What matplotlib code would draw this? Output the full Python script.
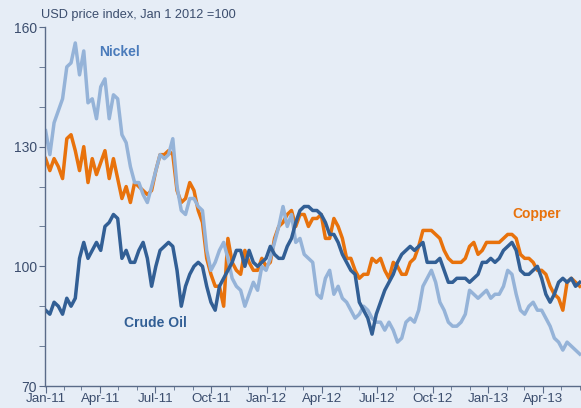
import matplotlib
matplotlib.use("Agg")
import matplotlib.pyplot as plt
import matplotlib.dates as mdates
import pandas as pd

plt.rcParams["font.family"] = ["Liberation Sans", "DejaVu Sans"]

# weekly observations, Jan 2011 - end May 2013 (USD index, Jan 1 2012 = 100)
dates = pd.date_range("2011-01-01", periods=127, freq="7D")

nickel = [
    134, 128, 136, 139, 142, 150, 151, 156, 148, 154, 141, 142, 137, 145, 147, 137,
    143, 142, 133, 131, 125, 121, 121, 118, 116, 120, 124, 128, 127, 128, 132, 120,
    114, 113, 117, 117, 115, 114, 104, 99, 101, 104, 106, 102, 97, 95, 94, 90,
    93, 96, 94, 100, 99, 102, 106, 110, 115, 110, 113, 106, 107, 103, 102, 101,
    93, 92, 97, 99, 93, 95, 92, 91, 89, 87, 88, 90, 89, 87, 86, 86,
    84, 86, 84, 81, 82, 86, 87, 86, 89, 95, 97, 99, 96, 91, 89, 86,
    85, 85, 86, 88, 94, 93, 92, 93, 94, 92, 93, 93, 95, 99, 98, 93,
    89, 88, 90, 91, 89, 89, 87, 85, 82, 81, 79, 81, 80, 79, 78,
]

copper = [
    127, 124, 127, 125, 122, 132, 133, 129, 124, 130, 121, 127, 123, 126, 129, 122,
    127, 122, 117, 120, 116, 121, 120, 119, 118, 119, 124, 128, 128, 129, 128, 119,
    116, 117, 121, 119, 114, 111, 102, 98, 95, 95, 90, 107, 101, 99, 98, 104,
    101, 99, 99, 102, 100, 101, 107, 110, 111, 113, 114, 110, 113, 113, 110, 112,
    112, 113, 107, 107, 112, 110, 107, 102, 102, 99, 97, 98, 98, 102, 101, 102,
    99, 97, 101, 100, 98, 98, 101, 102, 105, 109, 109, 109, 108, 107, 104, 102,
    101, 101, 101, 102, 105, 106, 103, 104, 106, 106, 106, 106, 107, 108, 108, 107,
    103, 102, 102, 101, 99, 99, 98, 95, 93, 92, 89, 96, 97, 96, 95,
]

crude_oil = [
    89, 88, 91, 90, 88, 92, 90, 92, 102, 106, 102, 104, 106, 104, 110, 111,
    113, 112, 102, 104, 101, 101, 104, 106, 102, 95, 100, 104, 105, 106, 105, 99,
    90, 95, 98, 100, 101, 100, 95, 91, 89, 95, 97, 99, 101, 104, 104, 100,
    104, 101, 100, 101, 102, 105, 103, 102, 102, 105, 107, 111, 114, 115, 115, 114,
    114, 113, 111, 108, 108, 106, 103, 101, 99, 98, 91, 89, 87, 83, 88, 91,
    94, 96, 98, 101, 103, 104, 105, 104, 105, 106, 101, 101, 101, 102, 99, 96,
    96, 97, 97, 97, 96, 97, 98, 101, 101, 102, 101, 102, 104, 105, 106, 104,
    99, 98, 98, 99, 100, 97, 93, 91, 93, 96, 97, 96, 97, 95, 96,
]

BG = "#e6edf6"
TXT = "#3b4d6d"
AXC = "#5a6b88"

fig = plt.figure(figsize=(5.81, 4.08), dpi=100)
fig.patch.set_facecolor(BG)
ax = fig.add_axes([45 / 581, 22 / 408, 536 / 581, 359 / 408])
ax.set_facecolor(BG)

ax.plot(dates, copper, color="#e8720c", lw=2.5, solid_joinstyle="round")
ax.plot(dates, nickel, color="#95b3d8", lw=2.5, solid_joinstyle="round")
ax.plot(dates, crude_oil, color="#325f95", lw=2.5, solid_joinstyle="round")

ax.set_ylim(70, 160)
ax.set_xlim(pd.Timestamp("2010-12-31"), pd.Timestamp("2013-06-03"))
ax.set_yticks([70, 100, 130, 160])
ax.set_yticks(range(70, 161, 10), minor=True)
ax.xaxis.set_major_locator(mdates.MonthLocator(bymonth=[1, 4, 7, 10]))
ax.xaxis.set_minor_locator(mdates.MonthLocator())
ax.xaxis.set_major_formatter(mdates.DateFormatter("%b-%y"))

for s in ["top", "right"]:
    ax.spines[s].set_visible(False)
for s in ["left", "bottom"]:
    ax.spines[s].set_color(AXC)
    ax.spines[s].set_linewidth(1.0)
ax.tick_params(which="both", direction="out", color=AXC, labelcolor=TXT)
ax.tick_params(axis="y", which="both", length=4, pad=2, labelsize=10)
ax.tick_params(axis="x", which="major", length=5, pad=0, labelsize=9.6)
ax.tick_params(axis="x", which="minor", length=3)

fig.text(41 / 581, 1 - 15 / 408, "USD price index, Jan 1 2012 =100",
         color=TXT, fontsize=9.2, ha="left", va="center")
ax.text(pd.Timestamp("2011-03-31"), 153.8, "Nickel", color="#4a7bbb",
        fontsize=10, fontweight="bold", ha="left", va="center")
ax.text(pd.Timestamp("2013-02-09"), 113, "Copper", color="#e8720c",
        fontsize=10, fontweight="bold", ha="left", va="center")
ax.text(pd.Timestamp("2011-05-10"), 85.7, "Crude Oil", color="#325f95",
        fontsize=10, fontweight="bold", ha="left", va="center")

fig.savefig("out.png", dpi=100, facecolor=BG)
